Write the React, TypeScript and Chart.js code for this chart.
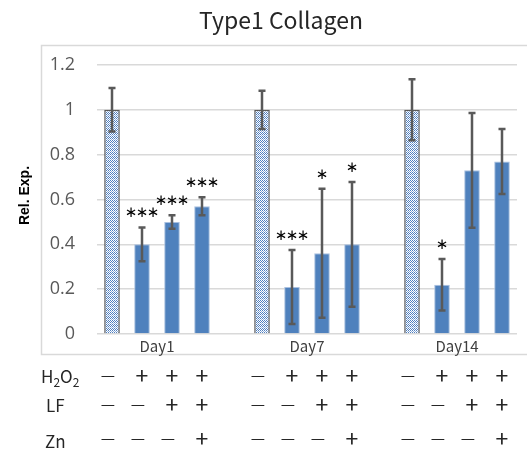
import React, { useEffect, useRef } from 'react';
import { Chart, registerables } from 'chart.js';

Chart.register(...registerables);

const days = ['Day1', 'Day7', 'Day14'];
const day1Values = [1.0, 0.4, 0.5, 0.57];
const day7Values = [1.0, 0.21, 0.36, 0.4];
const day14Values = [1.0, 0.22, 0.73, 0.77];
const day1Errors = [0.097, 0.075, 0.03, 0.04];
const day7Errors = [0.085, 0.165, 0.288, 0.278];
const day14Errors = [0.136, 0.115, 0.256, 0.145];
const day1Sig = ['', '***', '***', '***'];
const day7Sig = ['', '***', '*', '*'];
const day14Sig = ['', '*', '', ''];
const h2o2Row = ['−', '+', '+', '+'];
const lfRow = ['−', '−', '+', '+'];
const znRow = ['−', '−', '−', '+'];
const rowNames = ['H2O2', 'LF', 'Zn'];
const yTicks = [0, 0.2, 0.4, 0.6, 0.8, 1, 1.2];
const titleText = 'Type1 Collagen';
const yTitle = 'Rel. Exp.';

const groupValues = [day1Values, day7Values, day14Values];
const groupErrors = [day1Errors, day7Errors, day14Errors];
const groupSig = [day1Sig, day7Sig, day14Sig];
const rows = [h2o2Row, lfRow, znRow];

// build slot arrays (4 bars per day + an empty slot between days)
const slotLabels: string[] = [];
const slotValues: (number | null)[] = [];
const slotErrors: (number | null)[] = [];
const slotSig: string[] = [];
const slotCond: number[] = [];
const slotDay: number[] = [];
groupValues.forEach((vals, d) => {
  vals.forEach((v, i) => {
    slotLabels.push(days[d] + '-' + i);
    slotValues.push(v);
    slotErrors.push(groupErrors[d][i]);
    slotSig.push(groupSig[d][i]);
    slotCond.push(i);
    slotDay.push(d);
  });
  if (d < groupValues.length - 1) {
    slotLabels.push('');
    slotValues.push(null);
    slotErrors.push(null);
    slotSig.push('');
    slotCond.push(-1);
    slotDay.push(-1);
  }
});

const JP = '"Noto Sans CJK JP", "Noto Sans", sans-serif';

function makePattern(): CanvasPattern | string {
  const c = document.createElement('canvas');
  c.width = 4;
  c.height = 4;
  const g = c.getContext('2d');
  if (!g) return '#9db7dd';
  g.fillStyle = '#ffffff';
  g.fillRect(0, 0, 4, 4);
  g.fillStyle = '#4f7fc0';
  g.fillRect(0, 0, 1, 1);
  g.fillRect(2, 0, 1, 1);
  g.fillRect(1, 1, 1, 1);
  g.fillRect(3, 1, 1, 1);
  g.fillRect(0, 2, 1, 1);
  g.fillRect(2, 2, 1, 1);
  g.fillStyle = '#8eaedb';
  g.fillRect(1, 3, 1, 1);
  g.fillRect(3, 3, 1, 1);
  const p = g.createPattern(c, 'repeat');
  return p || '#9db7dd';
}

const overlayPlugin = {
  id: 'overlay',
  beforeDraw(chart: any) {
    const ctx = chart.ctx;
    ctx.save();
    ctx.strokeStyle = '#d9d9d9';
    ctx.lineWidth = 1.5;
    ctx.strokeRect(41.5, 45.5, 600, 309);
    // title
    ctx.fillStyle = '#262626';
    ctx.font = '23px ' + JP;
    ctx.textAlign = 'center';
    ctx.textBaseline = 'middle';
    ctx.fillText(titleText, 281, 20);
    ctx.restore();
  },
  afterDatasetsDraw(chart: any) {
    const ctx = chart.ctx;
    const xs = chart.scales.x;
    const ys = chart.scales.y;
    ctx.save();
    // error bars
    ctx.strokeStyle = '#595959';
    ctx.lineWidth = 2.5;
    slotValues.forEach((v, i) => {
      const e = slotErrors[i];
      if (v === null || e === null) return;
      const x = xs.getPixelForValue(i);
      const yt = ys.getPixelForValue(v + e);
      const yb = ys.getPixelForValue(v - e);
      ctx.beginPath();
      ctx.moveTo(x, yt);
      ctx.lineTo(x, yb);
      ctx.moveTo(x - 3.5, yt);
      ctx.lineTo(x + 3.5, yt);
      ctx.moveTo(x - 3.5, yb);
      ctx.lineTo(x + 3.5, yb);
      ctx.stroke();
    });
    // significance (six-armed asterisk glyphs, spaced like the original)
    ctx.fillStyle = '#000000';
    ctx.font = '15px "DejaVu Sans", sans-serif';
    ctx.textAlign = 'center';
    ctx.textBaseline = 'middle';
    slotValues.forEach((v, i) => {
      const e = slotErrors[i];
      if (v === null || e === null || !slotSig[i]) return;
      const x = xs.getPixelForValue(i);
      const yt = ys.getPixelForValue(v + e);
      const n = slotSig[i].length;
      for (let k = 0; k < n; k++) {
        const cx = x + (k - (n - 1) / 2) * 11;
        ctx.fillText('∗', cx, yt - 14);
      }
    });
    // day labels
    ctx.fillStyle = '#404040';
    ctx.font = '15px ' + JP;
    ctx.textBaseline = 'middle';
    days.forEach((d, di) => {
      const idx = slotDay.map((sd, k) => (sd === di ? k : -1)).filter((k) => k >= 0);
      const x = (xs.getPixelForValue(idx[1]) + xs.getPixelForValue(idx[2])) / 2;
      ctx.fillText(d, x, ys.bottom + 12);
    });
    // treatment rows
    const rowY = [375, 404, 438];
    ctx.fillStyle = '#262626';
    rows.forEach((row, r) => {
      slotValues.forEach((v, i) => {
        if (v === null) return;
        const x = xs.getPixelForValue(i);
        const sym = row[slotCond[i]];
        if (sym === '−') {
          ctx.font = '16px ' + JP;
          ctx.fillText('—', x - 4, rowY[r]);
        } else {
          ctx.font = '23px ' + JP;
          ctx.fillText('+', x, rowY[r]);
        }
      });
    });
    // row names
    ctx.textAlign = 'left';
    let x0 = 41;
    const yH = 377;
    const parts: [string, boolean][] = [['H', false], ['2', true], ['O', false], ['2', true]];
    parts.forEach(([t, sub]) => {
      ctx.font = (sub ? '12px ' : '17px ') + JP;
      ctx.fillText(t, x0, sub ? yH + 5 : yH);
      x0 += ctx.measureText(t).width;
    });
    ctx.font = '17px ' + JP;
    ctx.fillText(rowNames[1], 46, 406);
    ctx.fillText(rowNames[2], 45, 442);
    // y title
    ctx.save();
    ctx.translate(25, (ys.top + ys.bottom) / 2 - 4);
    ctx.rotate(-Math.PI / 2);
    ctx.textAlign = 'center';
    ctx.textBaseline = 'middle';
    ctx.fillStyle = '#000000';
    ctx.font = 'bold 14px "Liberation Sans", Arial, sans-serif';
    ctx.fillText(yTitle, 0, 0);
    ctx.restore();
    ctx.restore();
  },
};

export default function App() {
  const ref = useRef<HTMLCanvasElement | null>(null);
  useEffect(() => {
    if (!ref.current) return;
    const pattern = makePattern();
    const chart = new Chart(ref.current, {
      type: 'bar',
      data: {
        labels: slotLabels,
        datasets: [
          {
            data: slotValues as any,
            backgroundColor: slotCond.map((c) => (c === 0 ? pattern : '#4f81bd')) as any,
            borderColor: slotCond.map((c) => (c === 0 ? '#595959' : '#a9c0e0')),
            borderWidth: slotCond.map((c) => (c === 0 ? 1.5 : 1)),
            barPercentage: 0.52,
            categoryPercentage: 1,
          },
        ],
      },
      options: {
        animation: false,
        responsive: false,
        layout: { padding: { left: 0, right: 10, top: 65, bottom: 119 } },
        plugins: {
          legend: { display: false },
          tooltip: { enabled: false },
          title: { display: false },
        },
        scales: {
          x: { display: false },
          y: {
            min: 0,
            max: 1.2,
            afterBuildTicks: (s: any) => {
              s.ticks = yTicks.map((v) => ({ value: v }));
            },
            afterFit: (s: any) => {
              s.width = 97;
            },
            ticks: {
              color: '#595959',
              font: { size: 18, family: '"Open Sans", sans-serif' },
              padding: 22,
              callback: (v: any) => String(Number(Number(v).toFixed(1))),
            },
            grid: { color: '#d9d9d9', lineWidth: 1.5, drawTicks: false },
            border: { display: false },
          },
        },
      },
      plugins: [overlayPlugin],
    });
    return () => chart.destroy();
  }, []);
  return (
    <div style={{ position: 'fixed', left: 0, top: 0, width: 527, height: 453, background: '#fff' }}>
      <canvas ref={ref} width={527} height={453} />
    </div>
  );
}
